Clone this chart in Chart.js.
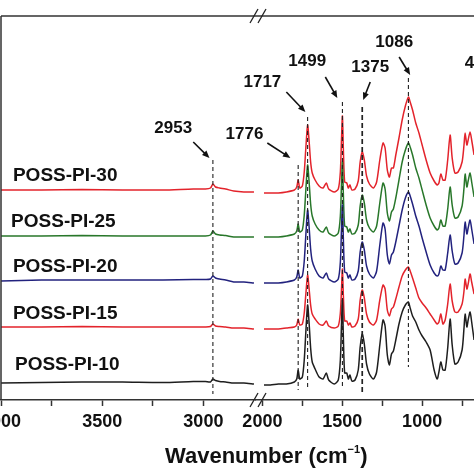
<!DOCTYPE html>
<html>
<head>
<meta charset="utf-8">
<script src="https://cdn.jsdelivr.net/npm/chart.js@4.4.1/dist/chart.umd.min.js"></script>
<style>
  body { margin: 0; background: #fff; }
  #wrap { position: relative; width: 474px; height: 474px; overflow: hidden; background: #fff; }
  .box { position: absolute; top: 0; height: 474px; }
  #leftBox { left: -40px; width: 296px; }
  #rightBox { left: 200px; width: 360px; }
  #xTitle {
    position: absolute; left: 165px; top: 443px; line-height: 28px;
    font: bold 22px Arial, "Liberation Sans", sans-serif; color: #111; white-space: nowrap;
  }
  #xTitle sup { font-size: 11px; vertical-align: 10px; line-height: 0; }
</style>
</head>
<body>
<div id="wrap">
  <div class="box" id="leftBox"><canvas id="left"></canvas></div>
  <div class="box" id="rightBox"><canvas id="right"></canvas></div>
  <div id="xTitle">Wavenumber (cm<sup>&minus;1</sup>)</div>
</div>
<script>
// MARK: Data
const seriesNames = ['POSS-PI-10', 'POSS-PI-15', 'POSS-PI-20', 'POSS-PI-25', 'POSS-PI-30'];
const seriesColors = ['#1e1e1e', '#e3232b', '#22227e', '#28772a', '#e3232b'];

// high wavenumber part (4000 - 2740 cm-1)
const wnLeft = [4000, 3800, 3600, 3400, 3200, 3050, 2990, 2965, 2953, 2940, 2920, 2890, 2850, 2800, 2750];
const pi10Left = [17, 17.5, 18, 18, 17.5, 18.5, 18.5, 18, 21, 19.5, 18.5, 18, 17, 17, 16];
const pi15Left = [73, 73, 73.5, 73, 73, 73, 73, 73.5, 76, 74, 73.5, 73, 72, 72, 71];
const pi20Left = [119, 120, 120, 120, 120, 120.5, 120.5, 121, 124, 122, 121, 120, 118, 118, 117];
const pi25Left = [164, 164, 164.5, 164, 164, 164, 164, 165, 169, 166, 165, 164.5, 163, 163, 163];
const pi30Left = [210, 210, 210.5, 210, 210, 211, 211, 212, 216, 213, 212, 211, 209, 208, 208];

// fingerprint part (2000 - 675 cm-1)
const wnRight = [
  1990, 1950, 1900, 1850, 1800, 1785, 1776, 1766, 1750, 1738,
  1728, 1717, 1708, 1698, 1688, 1670, 1645, 1620, 1600, 1585,
  1550, 1525, 1512, 1505, 1499, 1493, 1485, 1472, 1462, 1452,
  1440, 1420, 1400, 1388, 1375, 1362, 1348, 1330, 1305, 1285,
  1265, 1245, 1232, 1218, 1205, 1192, 1180, 1165, 1145, 1125,
  1105, 1086, 1075, 1060, 1040, 1020, 1000, 975, 950, 925,
  906, 895, 883, 870, 856, 840, 825, 812, 795, 775,
  750, 738, 731, 720, 712, 700, 690, 675
];
const pi10Right = [
  15, 15, 16, 16, 18, 21, 30, 21, 23, 40,
  68, 95, 78, 52, 38, 31, 23, 21, 27, 20,
  16, 20, 40, 75, 100, 62, 27, 27, 21, 25,
  19, 20, 30, 53, 66, 56, 36, 26, 21, 28,
  55, 80, 74, 45, 35, 46, 49, 60, 76, 88,
  95, 98, 92, 84, 78, 70, 64, 58, 50, 30,
  21, 28, 38, 30, 30, 52, 81, 55, 36, 38,
  50, 72, 86, 73, 80, 88, 78, 60
];
const pi15Right = [
  71, 71, 71, 72, 73, 75, 81, 75, 76, 87,
  106, 125, 112, 95, 86, 81, 76, 75, 79, 74,
  72, 74, 87, 110, 131, 104, 79, 79, 75, 77,
  73, 74, 81, 100, 110, 102, 86, 78, 75, 80,
  100, 115, 111, 90, 84, 91, 93, 101, 113, 124,
  130, 133, 129, 122, 112, 102, 97, 92, 86, 80,
  76, 78, 86, 76, 80, 96, 116, 99, 88, 88,
  96, 109, 121, 111, 116, 126, 118, 106
];
const pi20Right = [
  117, 117, 117, 118, 120, 123, 130, 122, 124, 139,
  165, 190, 174, 151, 139, 131, 124, 122, 127, 121,
  118, 121, 138, 170, 195, 160, 128, 127, 122, 125,
  120, 121, 129, 148, 158, 150, 134, 126, 122, 129,
  155, 177, 171, 145, 136, 145, 148, 158, 174, 190,
  202, 208, 204, 196, 184, 174, 162, 148, 135, 127,
  124, 126, 134, 130, 130, 147, 165, 149, 136, 137,
  147, 165, 178, 166, 172, 180, 171, 156
];
const pi25Right = [
  163, 163, 163, 164, 166, 169, 176, 168, 170, 185,
  210, 235, 219, 196, 184, 176, 170, 168, 173, 167,
  164, 167, 184, 215, 238, 205, 174, 173, 168, 171,
  166, 167, 175, 194, 205, 197, 180, 172, 168, 174,
  197, 217, 211, 187, 179, 188, 191, 202, 220, 238,
  250, 257, 253, 245, 232, 222, 210, 195, 182, 174,
  170, 172, 180, 174, 174, 191, 213, 195, 182, 183,
  194, 212, 226, 213, 219, 227, 218, 203
];
const pi30Right = [
  207, 207, 207, 208, 210, 213, 220, 212, 214, 228,
  252, 275, 260, 238, 227, 220, 214, 212, 217, 211,
  208, 211, 228, 260, 284, 250, 218, 217, 212, 215,
  210, 211, 219, 238, 248, 240, 224, 216, 212, 218,
  240, 257, 252, 230, 223, 232, 232, 245, 262, 280,
  294, 303, 298, 290, 277, 267, 255, 240, 227, 219,
  215, 217, 226, 220, 220, 240, 265, 242, 227, 228,
  238, 255, 267, 255, 260, 268, 260, 245
];

const leftTicks = [3000, 3250, 3500, 3750, 4000];
const rightTicks = [500, 750, 1000, 1250, 1500, 1750, 2000];

// dashed guide lines at the assigned bands
const leftMarks = [{ wn: 2953, top: 240, bottom: 6 }];
const rightMarks = [
  { wn: 1776, top: 235, bottom: 10 },
  { wn: 1717, top: 283, bottom: 13 },
  { wn: 1499, top: 298, bottom: 13 },
  { wn: 1375, top: 293, bottom: 6, bold: true },
  { wn: 1086, top: 322, bottom: 33 },
];

// peak labels with arrows
const leftPeaks = [{ text: '2953', wn: 3149, h: 272, from: [3050, 258], to: [2970, 242] }];
const rightPeaks = [
  { text: '1776', wn: 2112, h: 266, from: [1969, 257], to: [1825, 242] },
  { text: '1717', wn: 2000, h: 318, from: [1850, 308], to: [1731, 288] },
  { text: '1499', wn: 1719, h: 339, from: [1606, 323], to: [1531, 302] },
  { text: '1375', wn: 1325, h: 333, from: [1325, 318], to: [1369, 300] },
  { text: '1086', wn: 1175, h: 358, from: [1144, 343], to: [1075, 325] },
  { text: '470', wn: 644, h: 337 },
];

// sample names on the left part
const nameWn = [3931, 3941, 3941, 3950, 3941];
const nameH = [35, 86, 133, 178, 224];

// MARK: Helpers
const FONT = 'Arial, "Liberation Sans", sans-serif';

function toPoints(wn, values) {
  return wn.map((w, i) => ({ x: w, y: values[i] }));
}

function makeDatasets(wn, list) {
  return list.map((values, i) => ({
    label: seriesNames[i],
    data: toPoints(wn, values),
    borderColor: seriesColors[i],
    borderWidth: 1.5,
    pointRadius: 0,
    tension: 0.25,
    fill: false,
  }));
}

function xAxis(min, max, ticks) {
  return {
    type: 'linear',
    reverse: true,
    min,
    max,
    afterBuildTicks: s => { s.ticks = ticks.map(v => ({ value: v })); },
    afterFit: s => { s.height = 74; },
    grid: { drawOnChartArea: false, drawTicks: true, tickLength: 6, tickColor: '#333', tickWidth: 1.5 },
    border: { display: true, color: '#333', width: 1.5 },
    ticks: {
      color: '#111',
      padding: 5,
      autoSkip: false,
      maxRotation: 0,
      font: { family: FONT, size: 18, weight: 'bold' },
      callback: v => (v % 500 === 0 ? String(v) : ''),
    },
  };
}

function arrow(ctx, x1, y1, x2, y2) {
  const ang = Math.atan2(y2 - y1, x2 - x1);
  const len = 8;
  ctx.beginPath();
  ctx.moveTo(x1, y1);
  ctx.lineTo(x2 - Math.cos(ang) * len * 0.7, y2 - Math.sin(ang) * len * 0.7);
  ctx.stroke();
  ctx.beginPath();
  ctx.moveTo(x2, y2);
  ctx.lineTo(x2 - len * Math.cos(ang - 0.4), y2 - len * Math.sin(ang - 0.4));
  ctx.lineTo(x2 - len * Math.cos(ang + 0.4), y2 - len * Math.sin(ang + 0.4));
  ctx.closePath();
  ctx.fill();
}

// MARK: Decoration plugin (frame, guides, labels)
const deco = {
  id: 'deco',
  afterDatasetsDraw(chart, args, opts) {
    const { ctx, chartArea: a } = chart;
    const x = chart.scales.x;
    const y = chart.scales.y;
    ctx.save();

    // frame
    ctx.strokeStyle = '#333';
    ctx.lineWidth = 1.5;
    ctx.beginPath();
    ctx.moveTo(a.left, a.top);
    ctx.lineTo(a.right, a.top);
    if (opts.leftEdge) {
      ctx.moveTo(a.left, a.top);
      ctx.lineTo(a.left, a.bottom);
    }
    ctx.stroke();

    // axis break marks
    if (opts.breakMarks) {
      const cx = a.left + 2;
      ctx.lineWidth = 1.3;
      ctx.strokeStyle = '#222';
      for (const yy of [a.top, a.bottom]) {
        for (const dx of [-4, 4]) {
          ctx.beginPath();
          ctx.moveTo(cx + dx - 4, yy + 7);
          ctx.lineTo(cx + dx + 4, yy - 7);
          ctx.stroke();
        }
      }
    }

    // dashed guides
    ctx.strokeStyle = '#222';
    for (const m of opts.marks) {
      ctx.setLineDash(m.bold ? [5, 3] : [4, 3]);
      ctx.lineWidth = m.bold ? 1.7 : 1.1;
      const px = x.getPixelForValue(m.wn);
      ctx.beginPath();
      ctx.moveTo(px, y.getPixelForValue(m.top));
      ctx.lineTo(px, y.getPixelForValue(m.bottom));
      ctx.stroke();
    }
    ctx.setLineDash([]);

    // peak labels + arrows
    ctx.fillStyle = '#111';
    ctx.strokeStyle = '#111';
    ctx.lineWidth = 1.6;
    ctx.font = 'bold 17px ' + FONT;
    ctx.textAlign = 'center';
    ctx.textBaseline = 'middle';
    for (const p of opts.peaks) {
      ctx.fillText(p.text, x.getPixelForValue(p.wn), y.getPixelForValue(p.h));
      if (p.from) {
        arrow(ctx,
          x.getPixelForValue(p.from[0]), y.getPixelForValue(p.from[1]),
          x.getPixelForValue(p.to[0]), y.getPixelForValue(p.to[1]));
      }
    }

    // sample names
    if (opts.names) {
      ctx.font = 'bold 19px ' + FONT;
      ctx.textAlign = 'left';
      seriesNames.forEach((n, i) => {
        ctx.fillText(n, x.getPixelForValue(nameWn[i]), y.getPixelForValue(nameH[i]));
      });
    }
    ctx.restore();
  }
};

// MARK: Charts
function makeChart(id, datasets, xScale, padding, decoOpts) {
  return new Chart(document.getElementById(id).getContext('2d'), {
    type: 'line',
    data: { datasets },
    options: {
      responsive: true,
      maintainAspectRatio: false,
      animation: false,
      layout: { padding },
      plugins: {
        legend: { display: false },
        tooltip: { enabled: false },
        deco: decoOpts,
      },
      scales: {
        x: xScale,
        y: { min: 0, max: 384, display: false },
      },
    },
    plugins: [deco],
  });
}

makeChart('left',
  makeDatasets(wnLeft, [pi10Left, pi15Left, pi20Left, pi25Left, pi30Left]),
  xAxis(2740, 4000, leftTicks),
  { left: 41, right: 0, top: 16, bottom: 0 },
  { leftEdge: true, marks: leftMarks, peaks: leftPeaks, names: true });

makeChart('right',
  makeDatasets(wnRight, [pi10Right, pi15Right, pi20Right, pi25Right, pi30Right]),
  xAxis(400, 2040, rightTicks),
  { left: 56, right: 42, top: 16, bottom: 0 },
  { breakMarks: true, marks: rightMarks, peaks: rightPeaks });
</script>
</body>
</html>
